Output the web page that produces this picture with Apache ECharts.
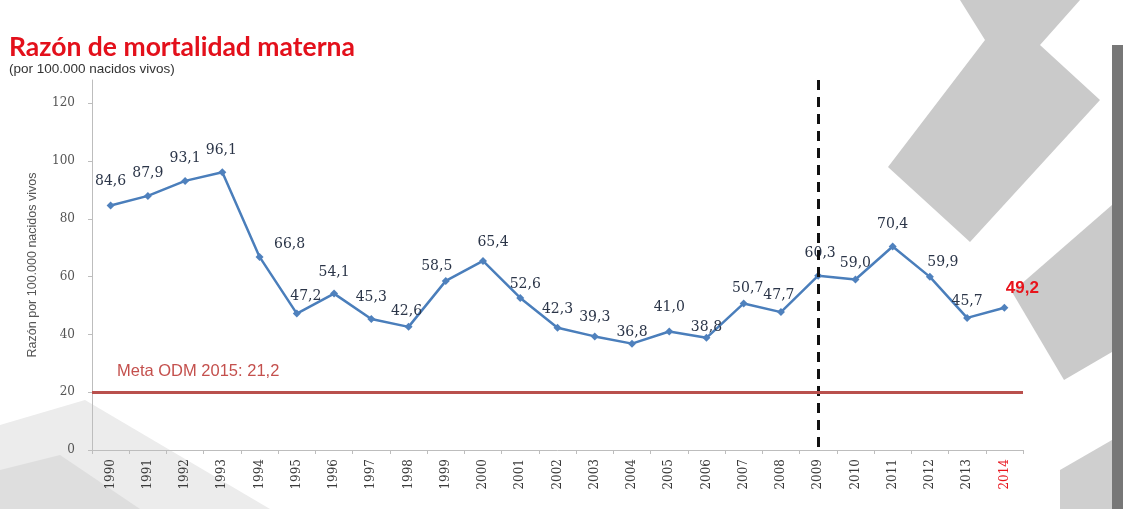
<!DOCTYPE html>
<html>
<head>
<meta charset="utf-8">
<style>
  html, body { margin: 0; padding: 0; background: #fff; }
  #chart { width: 1123px; height: 509px; }
</style>
<script src="https://cdn.jsdelivr.net/npm/echarts@6/dist/echarts.min.js"></script>
</head>
<body>
<div id="chart"></div>
<script>
var years = ['1990', '1991', '1992', '1993', '1994', '1995', '1996', '1997', '1998', '1999',
  '2000', '2001', '2002', '2003', '2004', '2005', '2006', '2007', '2008', '2009',
  '2010', '2011', '2012', '2013', '2014'];
var razon = [84.6, 87.9, 93.1, 96.1, 66.8, 47.2, 54.1, 45.3, 42.6, 58.5,
  65.4, 52.6, 42.3, 39.3, 36.8, 41.0, 38.8, 50.7, 47.7, 60.3,
  59.0, 70.4, 59.9, 45.7, 49.2];
var metaOdm = 20;
var metaLabel = 'Meta ODM 2015: 21,2';
var corteAnio = '2009';
var ultimoAnio = '2014';

// nudges so the value labels sit where the slide put them
var labelShift = {
  '1990': [0, -6], '1991': [0, -5], '1992': [0, -5], '1993': [-1, -4],
  '1994': [30, 5], '1995': [9, 1], '1996': [0, -3], '1997': [0, -4],
  '1998': [-2, 2], '1999': [-9, 3], '2000': [10, -1], '2001': [5, 4],
  '2003': [0, -1], '2004': [0, 7], '2005': [0, -6], '2006': [0, 8],
  '2007': [4, 3], '2008': [-2, 1], '2009': [2, -4], '2010': [0, 2],
  '2011': [0, -4], '2012': [13, 4], '2013': [0, 1], '2014': [18, 0]
};

function fmt(v) { return v.toFixed(1).replace('.', ','); }

var seriesData = razon.map(function(v, i) {
  var y = years[i];
  var item = { value: v, label: { offset: labelShift[y] || [0, 0] } };
  if (y === ultimoAnio) {
    item.label.color = '#e8141c';
    item.label.fontFamily = 'Liberation Sans';
    item.label.fontWeight = 'bold';
    item.label.fontSize = 17;
  }
  return item;
});

var chart = echarts.init(document.getElementById('chart'), null, { renderer: 'canvas' });

chart.setOption({
  backgroundColor: '#ffffff',
  animation: false,
  graphic: [
    { type: 'polygon', z: -10, silent: true,
      shape: { points: [[888, 167], [985, 40], [960, 0], [1080, 0], [1040, 45], [1100, 100], [970, 242]] },
      style: { fill: '#cacaca' } },
    { type: 'polygon', z: -10, silent: true,
      shape: { points: [[1012, 292], [1112, 205], [1112, 352], [1064, 380]] },
      style: { fill: '#cacaca' } },
    { type: 'polygon', z: -10, silent: true,
      shape: { points: [[1060, 470], [1112, 440], [1112, 509], [1060, 509]] },
      style: { fill: '#cfcfcf' } },
    { type: 'polygon', z: -10, silent: true,
      shape: { points: [[0, 425], [85, 400], [270, 509], [0, 509]] },
      style: { fill: '#ececec' } },
    { type: 'polygon', z: -10, silent: true,
      shape: { points: [[0, 470], [60, 455], [140, 509], [0, 509]] },
      style: { fill: '#dedede' } },
    { type: 'rect', z: -10, silent: true,
      shape: { x: 1112, y: 45, width: 11, height: 464 },
      style: { fill: '#777777' } }
  ],
  title: {
    text: 'Razón de mortalidad materna',
    subtext: '(por 100.000 nacidos vivos)',
    left: 4,
    top: 29,
    itemGap: 1,
    textStyle: { color: '#e3101b', fontSize: 26.5, fontWeight: 'bold', fontFamily: 'Lato' },
    subtextStyle: { color: '#333333', fontSize: 13.5, fontFamily: 'Liberation Sans' }
  },
  grid: { left: 92, right: 100, top: 80, bottom: 59 },
  xAxis: {
    type: 'category',
    data: years,
    boundaryGap: true,
    axisLine: { lineStyle: { color: '#bdbdbd', width: 1 } },
    axisTick: { show: true, length: 4, lineStyle: { color: '#bdbdbd' } },
    axisLabel: {
      rotate: 90,
      interval: 0,
      margin: 9,
      fontSize: 12,
      fontFamily: 'DejaVu Serif',
      color: function(v) { return v === ultimoAnio ? '#e8141c' : '#3a3a3a'; }
    }
  },
  yAxis: {
    type: 'value',
    min: 0,
    max: 128,
    interval: 20,
    name: 'Razón por 100.000 nacidos vivos',
    nameLocation: 'middle',
    nameGap: 53,
    nameTextStyle: { color: '#555555', fontSize: 12.5, fontFamily: 'Liberation Sans' },
    axisLine: { show: true, lineStyle: { color: '#bdbdbd', width: 1 } },
    axisTick: { show: true, length: 4, lineStyle: { color: '#bdbdbd' } },
    splitLine: { show: false },
    axisLabel: {
      margin: 17,
      fontSize: 12,
      fontFamily: 'DejaVu Serif',
      color: '#555555',
      showMaxLabel: false,
      formatter: function(v) { return v % 20 === 0 ? String(v) : ''; }
    }
  },
  series: [
    {
      type: 'line',
      data: seriesData,
      symbol: 'diamond',
      symbolSize: 8,
      lineStyle: { color: '#4a7ebb', width: 2.5 },
      itemStyle: { color: '#4f81bd' },
      label: {
        show: true,
        position: 'top',
        distance: 7,
        fontSize: 14,
        fontFamily: 'DejaVu Serif',
        color: '#2b3548',
        formatter: function(p) { return fmt(p.value); }
      },
      markLine: {
        silent: true,
        symbol: 'none',
        data: [
          [
            { coord: [corteAnio, 128], lineStyle: { color: '#111111', width: 3, type: [10, 7] }, label: { show: false } },
            { coord: [corteAnio, 0] }
          ],
          {
            yAxis: metaOdm,
            lineStyle: { color: '#b9504d', width: 3, type: 'solid' },
            label: {
              show: true,
              position: 'insideStartTop',
              distance: 12,
              padding: [0, 0, 0, 13],
              formatter: metaLabel,
              color: '#c4504d',
              fontSize: 16.5,
              fontFamily: 'Liberation Sans'
            }
          }
        ]
      }
    }
  ]
});

window.addEventListener('resize', function() { chart.resize(); });
</script>
</body>
</html>
